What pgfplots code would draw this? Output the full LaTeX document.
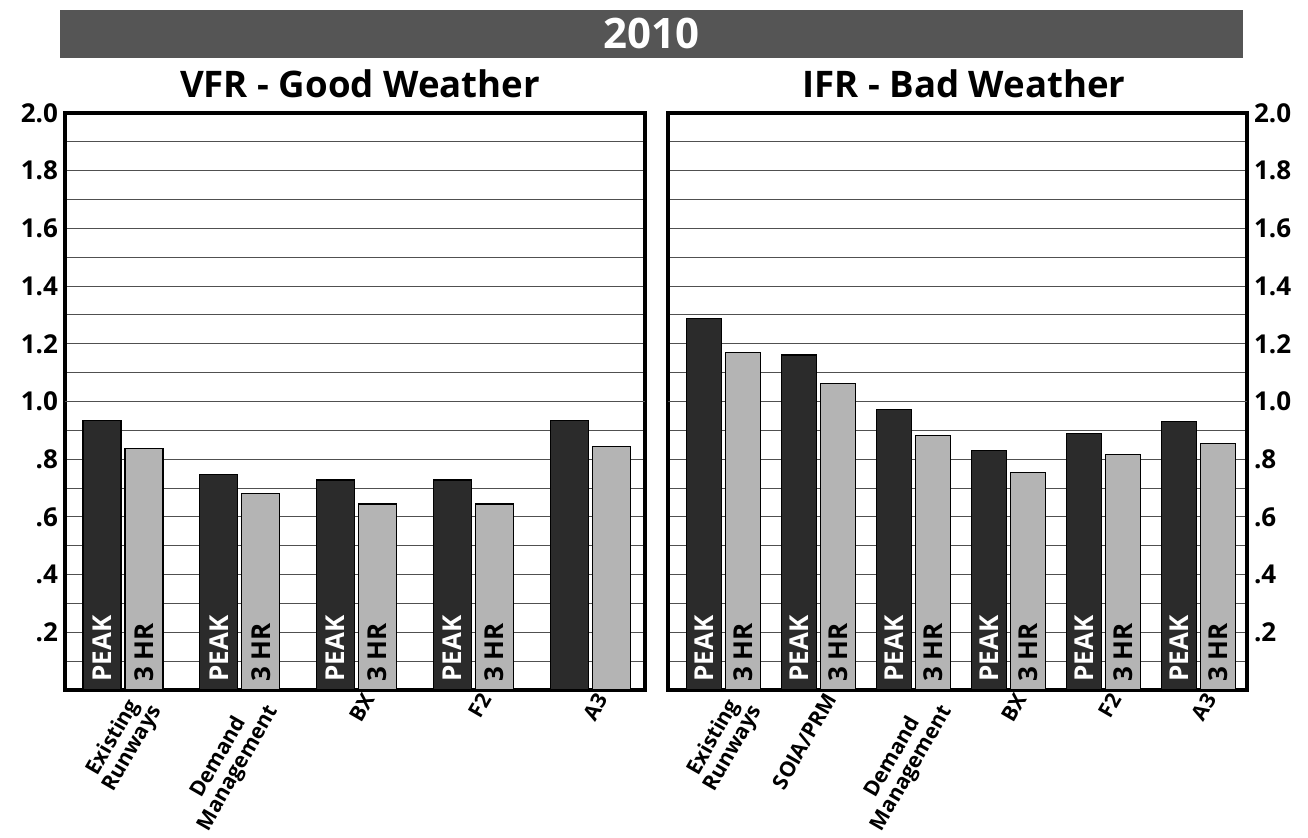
\documentclass[border=0pt]{standalone}
\usepackage{pgfplots}
\pgfplotsset{compat=1.18}
\usepackage{fontspec}
\setmainfont{Open Sans}
\definecolor{peakc}{HTML}{2B2B2B}
\definecolor{hrc}{HTML}{B4B4B4}
\definecolor{bannerc}{HTML}{555555}
\definecolor{gridc}{HTML}{505050}
\tikzset{
  pk/.style={rotate=90, anchor=west, text=white, font=\fontsize{13}{15}\selectfont\bfseries, inner sep=0pt},
  hr/.style={rotate=90, anchor=west, text=black, font=\fontsize{13}{15}\selectfont\bfseries, inner sep=0pt},
}
\pgfplotsset{
  mybase/.style={
    scale only axis,
    height=288.5pt,
    width=290pt,
    ymin=0, ymax=2,
    ytick={0.2,0.4,0.6,0.8,1.0,1.2,1.4,1.6,1.8,2.0},
    yticklabels={.2,.4,.6,.8,1.0,1.2,1.4,1.6,1.8,2.0},
    minor ytick={0.1,0.3,0.5,0.7,0.9,1.1,1.3,1.5,1.7,1.9},
    ymajorgrids, yminorgrids,
    major grid style={gridc, line width=0.5pt},
    minor grid style={gridc, line width=0.5pt},
    major tick length=0pt, minor tick length=0pt,
    extra y ticks={1},
    extra y tick labels={},
    extra y tick style={grid style={black, line width=2pt}},
    axis line style={black, line width=1.6pt},
    yticklabel style={font=\fontsize{13}{15}\selectfont\bfseries},
    xticklabel style={font=\fontsize{10.6}{11}\selectfont\bfseries, rotate=60, anchor=north east, align=center, inner sep=0pt, yshift=-2.5pt, xshift=1pt},
    xtick={0,...,5},
  },
}
\begin{document}
\begin{tikzpicture}
\path[use as bounding box] (0,0) rectangle (654pt,419pt);
% banner
\fill[bannerc] (30pt,390pt) rectangle (621.5pt,414pt);
\node[text=white, font=\fontsize{21}{23}\selectfont\bfseries] at (325.5pt,402.5pt) {2010};
\node[font=\fontsize{18.3}{20}\selectfont\bfseries] at (180pt,377pt) {VFR - Good Weather};
\node[font=\fontsize{18.3}{20}\selectfont\bfseries] at (482pt,377pt) {IFR - Bad Weather};

\begin{axis}[mybase,
  at={(32.5pt,74pt)}, anchor=south west,
  width=290pt,
  xmin=-0.497, xmax=4.47,
  xtick={0,1,2,3,4},
  xticklabels={Existing\\Runways, Demand\\Management, BX, F2, A3},
  ybar=2pt, bar width=19pt,
]
\addplot[fill=peakc, draw=black, line width=0.6pt] coordinates {(0,0.933) (1,0.747) (2,0.728) (3,0.728) (4,0.934)};
\addplot[fill=hrc, draw=black, line width=0.6pt] coordinates {(0,0.838) (1,0.681) (2,0.645) (3,0.645) (4,0.843)};
\node[pk] at ([xshift=-10.5pt, yshift=4pt]axis cs:0,0) {PEAK};
\node[hr] at ([xshift=10.5pt, yshift=4pt]axis cs:0,0) {3 HR};
\node[pk] at ([xshift=-10.5pt, yshift=4pt]axis cs:1,0) {PEAK};
\node[hr] at ([xshift=10.5pt, yshift=4pt]axis cs:1,0) {3 HR};
\node[pk] at ([xshift=-10.5pt, yshift=4pt]axis cs:2,0) {PEAK};
\node[hr] at ([xshift=10.5pt, yshift=4pt]axis cs:2,0) {3 HR};
\node[pk] at ([xshift=-10.5pt, yshift=4pt]axis cs:3,0) {PEAK};
\node[hr] at ([xshift=10.5pt, yshift=4pt]axis cs:3,0) {3 HR};
\end{axis}

\begin{axis}[mybase,
  at={(334pt,74pt)}, anchor=south west,
  width=289.5pt,
  xmin=-0.584, xmax=5.51,
  xtick={0,1,2,3,4,5},
  xticklabels={Existing\\Runways, SOIA/PRM, Demand\\Management, BX, F2, A3},
  yticklabel pos=right,
  ybar=2pt, bar width=17.5pt,
]
\addplot[fill=peakc, draw=black, line width=0.6pt] coordinates {(0,1.287) (1,1.161) (2,0.972) (3,0.830) (4,0.889) (5,0.930)};
\addplot[fill=hrc, draw=black, line width=0.6pt] coordinates {(0,1.169) (1,1.061) (2,0.882) (3,0.753) (4,0.816) (5,0.854)};
\node[pk] at ([xshift=-9.75pt, yshift=4pt]axis cs:0,0) {PEAK};
\node[hr] at ([xshift=9.75pt, yshift=4pt]axis cs:0,0) {3 HR};
\node[pk] at ([xshift=-9.75pt, yshift=4pt]axis cs:1,0) {PEAK};
\node[hr] at ([xshift=9.75pt, yshift=4pt]axis cs:1,0) {3 HR};
\node[pk] at ([xshift=-9.75pt, yshift=4pt]axis cs:2,0) {PEAK};
\node[hr] at ([xshift=9.75pt, yshift=4pt]axis cs:2,0) {3 HR};
\node[pk] at ([xshift=-9.75pt, yshift=4pt]axis cs:3,0) {PEAK};
\node[hr] at ([xshift=9.75pt, yshift=4pt]axis cs:3,0) {3 HR};
\node[pk] at ([xshift=-9.75pt, yshift=4pt]axis cs:4,0) {PEAK};
\node[hr] at ([xshift=9.75pt, yshift=4pt]axis cs:4,0) {3 HR};
\node[pk] at ([xshift=-9.75pt, yshift=4pt]axis cs:5,0) {PEAK};
\node[hr] at ([xshift=9.75pt, yshift=4pt]axis cs:5,0) {3 HR};
\end{axis}
\end{tikzpicture}
\end{document}
